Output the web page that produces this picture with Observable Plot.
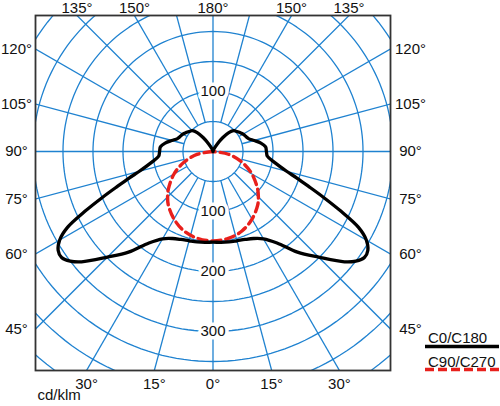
<!DOCTYPE html>
<html>
<head>
<meta charset="utf-8">
<script src="https://cdn.jsdelivr.net/npm/d3@7"></script>
<script src="https://cdn.jsdelivr.net/npm/@observablehq/plot@0.6"></script>
<style>
  html, body { margin: 0; padding: 0; background: white; }
  #wrap { position: relative; width: 500px; height: 406px; font-family: "Liberation Sans", Arial, sans-serif; }
  #legend { position: absolute; left: 0; top: 0; }
</style>
</head>
<body>
<div id="wrap"></div>
<script>
// ---- data (cd/klm) ----
const gamma = [0,5,10,15,20,25,30,35,40,45,50,52.5,55,57.5,60,62.5,65,67.5,70,72.5,75,80,85,90,95,100,105,110,115,120,125,130,135,140,145,150,160,170,180];
const c0   = [151,152,153,154,156,160,168,186,219,249,286,300,308,306,295,273,235,199,169,146,127,104,91,89,88,81,71,63,60,58,55,52,49,41,28,15,4,1,0];
const c180 = [151,152,153,154,156,160,168,186,219,249,286,300,308,306,295,273,235,199,169,146,127,104,91,89,88,81,71,63,60,58,55,52,49,41,28,15,4,1,0];
const gammaC90 = [0,10,20,30,40,45,50,60,70,80,90];
const c90  = [149,147,141,130,116,107,97,75,51,26,0];
const c270 = [149,147,141,130,116,107,97,75,51,26,0];

const rings = [50,100,150,200,250,300,350,400,450];
const spokeAngles = [15,30,45,60,75,105,120,135,150,165];
const ringLabelValues = [100,100,200,300];
const ringLabelAngles = [180,0,0,0];
const angleLabels = [
  {a:135, s:-1},{a:150, s:-1},{a:180, s:0},{a:150, s:1},{a:135, s:1},
  {a:120, s:-1},{a:105, s:-1},{a:90, s:-1},{a:75, s:-1},{a:60, s:-1},{a:45, s:-1},
  {a:120, s:1},{a:105, s:1},{a:90, s:1},{a:75, s:1},{a:60, s:1},{a:45, s:1},
  {a:30, s:-1},{a:15, s:-1},{a:0, s:0},{a:15, s:1},{a:30, s:1}
];
const seriesNames = ["C0/C180", "C90/C270"];
const unitLabel = "cd/klm";

// ---- geometry helpers ----
const xDom = [-295.8, 295.8];
const yDom = [-365, 226.7];
const rad = d => d * Math.PI / 180;
const pol = (r, g, side) => ({x: side * r * Math.sin(rad(g)), y: -r * Math.cos(rad(g))});

const blue = "#1f82d0";

const ringPts = [];
for (const r of rings) for (let t = 0; t <= 360; t += 2) ringPts.push({r, x: r*Math.cos(rad(t)), y: r*Math.sin(rad(t))});

const spokes = [];
for (const a of spokeAngles) for (const s of [-1, 1]) {
  const p1 = pol(50, a, s), p2 = pol(700, a, s);
  spokes.push({x1: p1.x, y1: p1.y, x2: p2.x, y2: p2.y});
}
spokes.push({x1: 0, y1: -700, x2: 0, y2: 700});
spokes.push({x1: -700, y1: 0, x2: 700, y2: 0});

function loop(g, left, right) {
  const pts = [];
  for (let i = g.length - 1; i >= 0; i--) pts.push(pol(left[i], g[i], -1));
  for (let i = 1; i < g.length; i++) pts.push(pol(right[i], g[i], 1));
  return pts;
}
const blackPts = loop(gamma, c180, c0);
const redPts = loop(gammaC90, c270, c90);

const ringLabels = ringLabelValues.map((v, i) => ({...pol(v, ringLabelAngles[i], 1), t: String(v)}));

// angle label positions on the frame edges
const edgeLabels = {left: [], right: [], top: [], bottom: []};
for (const {a, s} of angleLabels) {
  const dx = s * Math.sin(rad(a)), dy = -Math.cos(rad(a));
  let tx = Infinity, ty = Infinity;
  if (Math.abs(dx) > 1e-9) tx = (dx > 0 ? xDom[1] : xDom[0]) / dx;
  if (Math.abs(dy) > 1e-9) ty = (dy > 0 ? yDom[1] : yDom[0]) / dy;
  const t = Math.min(tx, ty);
  const p = {x: dx * t, y: dy * t, t: a + "°"};
  if (tx < ty) edgeLabels[dx > 0 ? "right" : "left"].push(p);
  else edgeLabels[dy > 0 ? "top" : "bottom"].push(p);
}

const txt = {fontSize: 15, fill: "#111", text: "t", x: "x", y: "y"};

const chart = Plot.plot({
  width: 500, height: 406,
  marginLeft: 35, marginRight: 110, marginTop: 15, marginBottom: 36,
  x: {domain: xDom, axis: null},
  y: {domain: yDom, axis: null},
  style: {fontFamily: "'Liberation Sans', Arial, sans-serif", background: "white"},
  marks: [
    Plot.line(ringPts, {x: "x", y: "y", z: "r", stroke: blue, strokeWidth: 1.3, clip: true}),
    Plot.link(spokes, {x1: "x1", y1: "y1", x2: "x2", y2: "y2", stroke: blue, strokeWidth: 1.3, clip: true}),
    Plot.text(ringLabels, {...txt, stroke: "white", strokeWidth: 7, paintOrder: "stroke"}),
    Plot.line(redPts, {x: "x", y: "y", curve: "catmull-rom", stroke: "#e8201c", strokeWidth: 3.4, strokeDasharray: "9,5", clip: true}),
    Plot.line(blackPts, {x: "x", y: "y", curve: "catmull-rom", stroke: "black", strokeWidth: 3.3, strokeLinejoin: "round", clip: true}),
    Plot.frame({stroke: "#333", strokeWidth: 1.8}),
    Plot.text(edgeLabels.left, {...txt, dx: -19}),
    Plot.text(edgeLabels.right, {...txt, dx: 20}),
    Plot.text(edgeLabels.top, {...txt, dy: -7.5}),
    Plot.text(edgeLabels.bottom, {...txt, dy: 13.5}),
    Plot.text([unitLabel], {frameAnchor: "bottom-left", textAnchor: "start", fontSize: 15, fill: "#111", dx: 2, dy: 29.5, text: d => d})
  ]
});
document.getElementById("wrap").appendChild(chart);

// legend (to the right of the frame)
const lg = d3.select("#wrap").append("svg").attr("id", "legend").attr("width", 500).attr("height", 406)
  .style("pointer-events", "none");
const items = [
  {name: seriesNames[0], stroke: "black", dash: null, ty: 343, ly: 346.5},
  {name: seriesNames[1], stroke: "#e8201c", dash: "9,4", ty: 366.5, ly: 369.5}
];
for (const it of items) {
  lg.append("text").attr("x", 428).attr("y", it.ty).attr("font-size", 15)
    .attr("font-family", "'Liberation Sans', Arial, sans-serif").attr("fill", "#111").text(it.name);
  lg.append("line").attr("x1", 425).attr("x2", 499).attr("y1", it.ly).attr("y2", it.ly)
    .attr("stroke", it.stroke).attr("stroke-width", 3.4).attr("stroke-dasharray", it.dash);
}
</script>
</body>
</html>
